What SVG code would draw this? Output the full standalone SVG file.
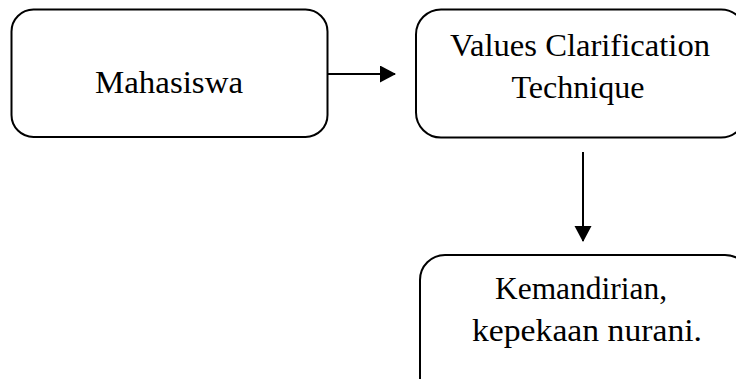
<svg xmlns="http://www.w3.org/2000/svg" width="736" height="379" viewBox="0 0 736 379">
<defs>
<style>
.box{fill:#fff;stroke:#000;stroke-width:2}
.t{font-family:"Liberation Serif","DejaVu Serif",serif;font-size:31.5px;fill:#000;text-anchor:middle}
.c{stroke:#000;stroke-width:2;fill:none}
</style>
<marker id="ah" markerWidth="16" markerHeight="18" refX="15" refY="8.5" orient="auto" markerUnits="userSpaceOnUse">
<path d="M0,0 L16,8.5 L0,17 Z" fill="#000"/>
</marker>
</defs>
<rect width="736" height="379" fill="#fff"/>
<g id="node-mahasiswa">
<rect class="box" x="11.5" y="9.5" width="316" height="127.5" rx="22"/>
<text class="t" x="169" y="93" textLength="148" lengthAdjust="spacingAndGlyphs">Mahasiswa</text>
</g>
<g id="node-vct">
<rect class="box" x="416" y="9.5" width="330" height="128" rx="25"/>
<text class="t" x="580" y="56" textLength="260" lengthAdjust="spacingAndGlyphs">Values Clarification</text>
<text class="t" x="578" y="98" textLength="133" lengthAdjust="spacingAndGlyphs">Technique</text>
</g>
<g id="node-kemandirian">
<rect class="box" x="420" y="255" width="330" height="150" rx="25"/>
<text class="t" x="581" y="299" textLength="172" lengthAdjust="spacingAndGlyphs">Kemandirian,</text>
<text class="t" x="587" y="341" textLength="230" lengthAdjust="spacingAndGlyphs">kepekaan nurani.</text>
</g>
<g id="connectors">
<line class="c" x1="328" y1="74" x2="395" y2="74" marker-end="url(#ah)"/>
<line class="c" x1="583" y1="152" x2="583" y2="241" marker-end="url(#ah)"/>
</g>
</svg>
